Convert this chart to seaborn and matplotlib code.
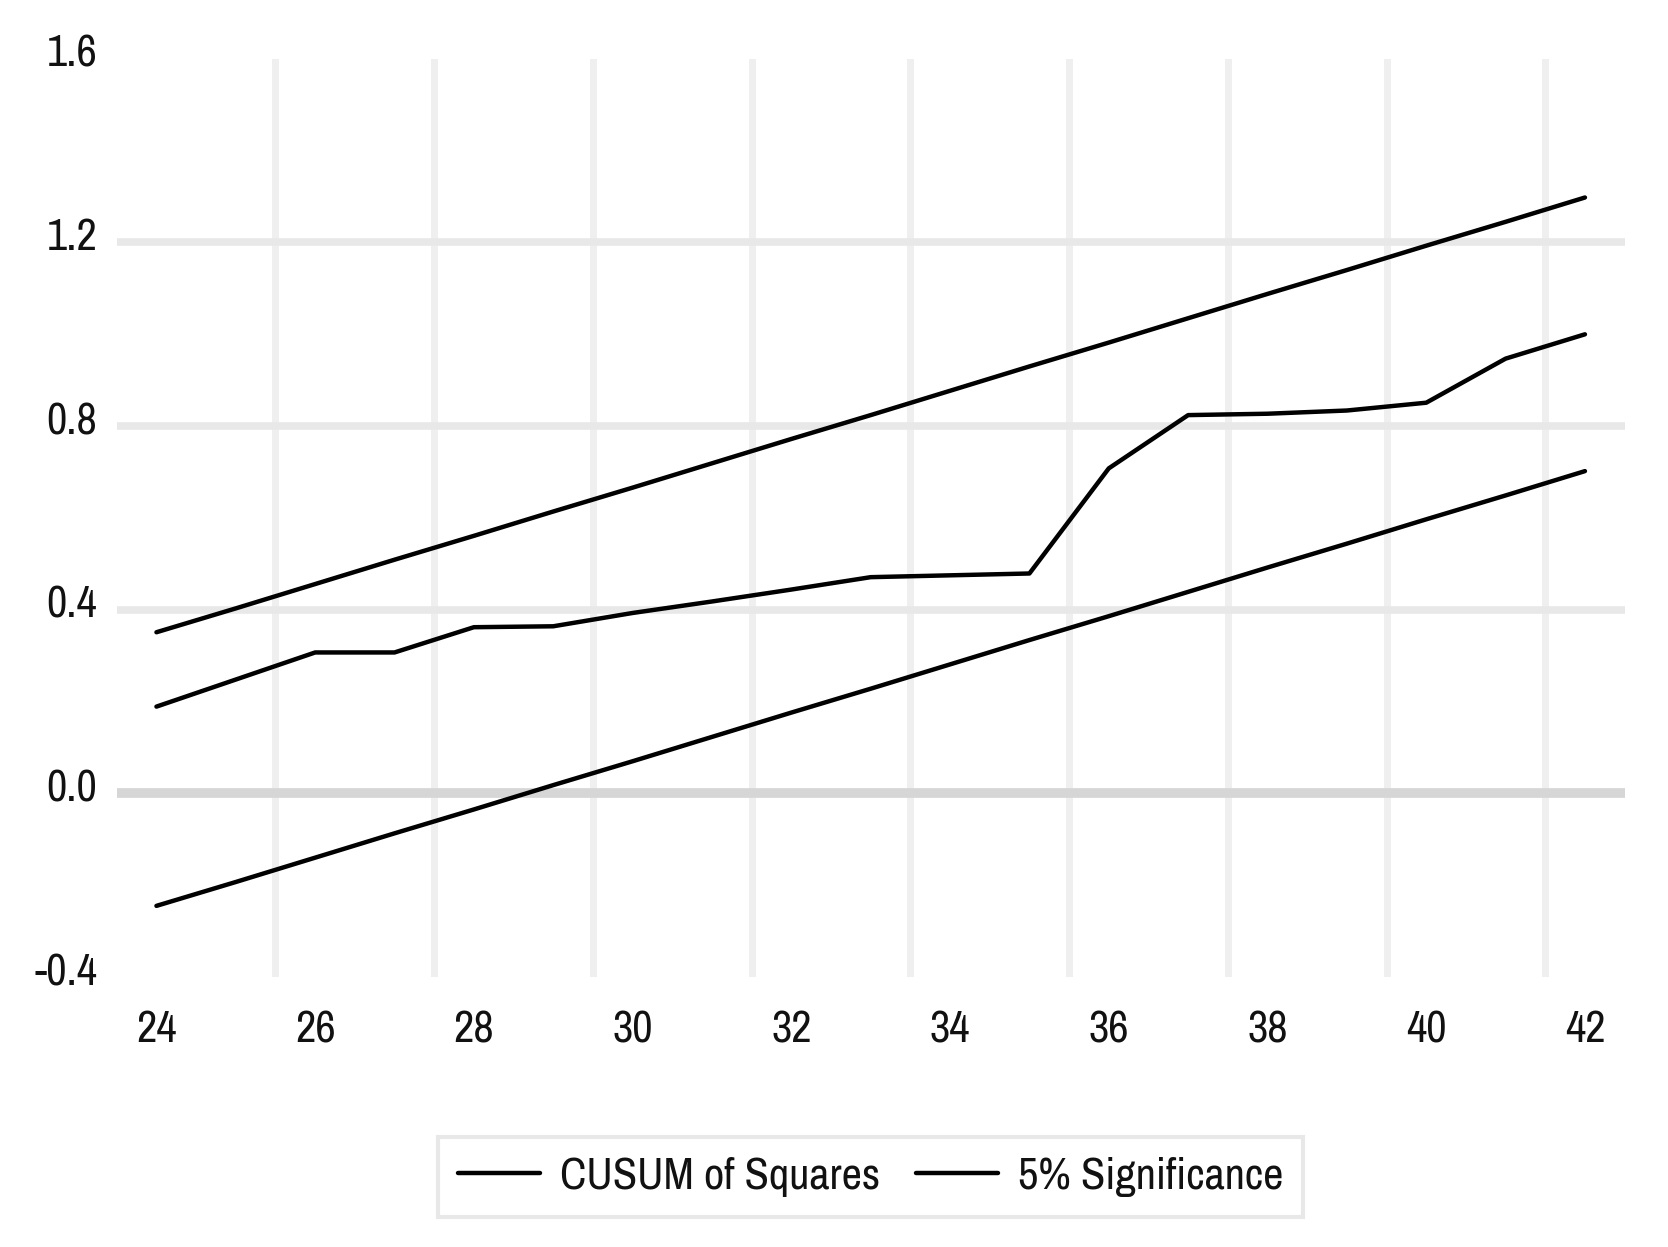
import numpy as np
import pandas as pd
import matplotlib
matplotlib.use("Agg")
import matplotlib.pyplot as plt
import matplotlib.transforms as mtransforms
from matplotlib import font_manager as fm
from matplotlib.ticker import FixedLocator
import seaborn as sns

# ---- data ----
obs = [24, 25, 26, 27, 28, 29, 30, 31, 32, 33, 34, 35, 36, 37, 38, 39, 40, 41, 42]
cusum_sq = [0.189, 0.248, 0.307, 0.307, 0.362, 0.364, 0.393, 0.418, 0.444, 0.471,
            0.475, 0.479, 0.708, 0.824, 0.827, 0.834, 0.851, 0.947, 1.000]
upper_5 = [0.351, 0.403, 0.456, 0.509, 0.561, 0.614, 0.666, 0.719, 0.772, 0.824,
           0.877, 0.930, 0.982, 1.035, 1.088, 1.140, 1.193, 1.245, 1.298]
lower_5 = [-0.245, -0.193, -0.140, -0.087, -0.035, 0.018, 0.070, 0.123, 0.176, 0.228,
           0.281, 0.334, 0.386, 0.439, 0.492, 0.544, 0.597, 0.649, 0.702]
x_tick_labels = [24, 26, 28, 30, 32, 34, 36, 38, 40, 42]
y_tick_values = [-0.4, 0.0, 0.4, 0.8, 1.2, 1.6]
series_names = ["CUSUM of Squares", "5% Significance"]

df = pd.DataFrame({"obs": obs, "cusum": cusum_sq, "upper": upper_5, "lower": lower_5})

sns.set_theme(style="white")
plt.rcParams["font.family"] = ["Liberation Sans", "DejaVu Sans"]


def pick_narrow_font():
    fl = fm.fontManager.ttflist
    def regular(f):
        return f.style == "normal" and f.weight in (400, "normal", "regular", "book")
    for f in fl:
        if f.name == "Liberation Sans Narrow" and regular(f):
            return f.fname
    for f in fl:
        if ("Narrow" in f.name or "Condensed" in f.name) and regular(f):
            return f.fname
    for f in fl:
        if f.stretch in ("condensed", "semi-condensed") and regular(f) \
                and "Mono" not in f.name and "Serif" not in f.name:
            return f.fname
    return None


narrow_path = pick_narrow_font()
if narrow_path is not None:
    base_size = 32
    def make_fp(size):
        return fm.FontProperties(fname=narrow_path, size=size)
else:
    base_size = 27
    def make_fp(size):
        return fm.FontProperties(family=["Liberation Sans", "DejaVu Sans"], size=size)

fig = plt.figure(figsize=(16.68, 12.47), dpi=100)
ax = fig.add_axes([0.070, 0.2165, 0.904, 0.7363])

lw = 3.2
sns.lineplot(data=df, x="obs", y="cusum", ax=ax, color="black", linewidth=lw,
             label=series_names[0], zorder=3)
sns.lineplot(data=df, x="obs", y="upper", ax=ax, color="black", linewidth=lw,
             label=series_names[1], zorder=3)
sns.lineplot(data=df, x="obs", y="lower", ax=ax, color="black", linewidth=lw,
             label="_nolegend_", zorder=3)

ax.set_xlim(23.5, 42.5)
ax.set_ylim(-0.4, 1.6)
ax.set_xlabel("")
ax.set_ylabel("")

# ticks
ax.xaxis.set_major_locator(FixedLocator(x_tick_labels))
ax.set_xticklabels([str(v) for v in x_tick_labels])
ax.xaxis.set_minor_locator(FixedLocator(np.arange(25.5, 42, 2.0)))
ax.yaxis.set_major_locator(FixedLocator(y_tick_values))
ax.set_yticklabels([f"{v:.1f}" for v in y_tick_values])

ax.tick_params(axis="both", which="both", length=0, colors="#111111")
ax.tick_params(axis="x", which="major", pad=24)
ax.tick_params(axis="y", which="major", pad=14)
for lab in ax.get_xticklabels() + ax.get_yticklabels():
    lab.set_fontproperties(make_fp(base_size))

# grids
ax.set_axisbelow(True)
ax.grid(False)
ax.xaxis.grid(True, which="minor", color="#efefef", lw=5)
ax.yaxis.grid(True, which="major", color="#e8e8e8", lw=5.5)
glines = ax.get_ygridlines()
for v, gl in zip(y_tick_values, glines):
    if v in (-0.4, 1.6):
        gl.set_visible(False)
    elif v == 0.0:
        gl.set_color("#d6d6d6")
        gl.set_linewidth(7)

for s in ax.spines.values():
    s.set_visible(False)

# shift y labels slightly upward
off = mtransforms.ScaledTranslation(0, 8 / 100, fig.dpi_scale_trans)
for lab in ax.get_yticklabels():
    lab.set_transform(lab.get_transform() + off)

# legend
handles, labels = ax.get_legend_handles_labels()
ax.get_legend().remove()
leg = fig.legend(handles, labels, loc="center", bbox_to_anchor=(0.522, 0.0565),
                 ncol=2, frameon=True, fancybox=False, prop=make_fp(base_size),
                 handlelength=1.85, handletextpad=0.45, columnspacing=0.8,
                 borderpad=0.45, borderaxespad=0)
frame = leg.get_frame()
frame.set_edgecolor("#e3e3e3")
frame.set_linewidth(3)
for t in leg.get_texts():
    t.set_color("#111111")

fig.savefig("out.png", dpi=100, facecolor="white")
